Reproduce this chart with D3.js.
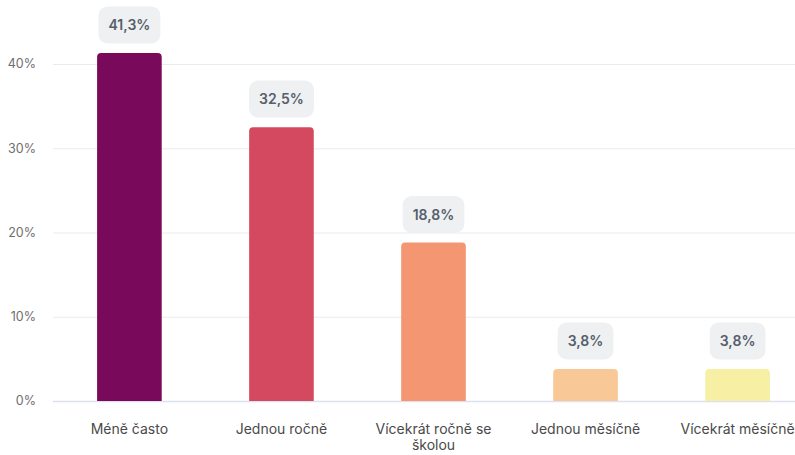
<!DOCTYPE html>
<html>
<head>
<meta charset="utf-8">
<script src="https://cdn.jsdelivr.net/npm/d3@7"></script>
<style>
    body { margin: 0; background: #fff; font-family: Inter, "Noto Sans", sans-serif; }
</style>
</head>
<body>
<div id="chart"></div>
<script>
    "use strict";

    // data
    const categories = ["Méně často", "Jednou ročně", "Vícekrát ročně se školou", "Jednou měsíčně", "Vícekrát měsíčně"];
    const shares = [41.3, 32.5, 18.8, 3.8, 3.8];
    const barColors = ["#790a5b", "#d4495f", "#f39671", "#f8c896", "#f7efa4"];
    const yTicks = [0, 10, 20, 30, 40];

    const width = 795;
    const height = 455;
    const margin = { top: 0, left: 53, bottom: 54 };

    const svg = d3.select("#chart").append("svg")
        .attr("width", width)
        .attr("height", height);

    const x = d3.scaleBand()
        .domain(categories)
        .range([margin.left, margin.left + 761])
        .paddingInner(0.575)
        .paddingOuter(0.29);

    const y = d3.scaleLinear()
        .domain([0, 40])
        .range([401, 64]);

    // grid
    svg.append("g")
        .selectAll("line")
        .data(yTicks)
        .enter()
        .append("line")
        .attr("x1", margin.left)
        .attr("x2", width)
        .attr("y1", d => y(d) + 0.5)
        .attr("y2", d => y(d) + 0.5)
        .attr("stroke", d => d === 0 ? "#dde1ef" : "#ebebeb")
        .attr("stroke-width", d => d === 0 ? 1.5 : 1);

    svg.append("g")
        .selectAll("text")
        .data(yTicks)
        .enter()
        .append("text")
        .attr("x", 36)
        .attr("y", d => y(d))
        .attr("dy", "0.35em")
        .attr("text-anchor", "end")
        .attr("fill", "#6e6e6e")
        .attr("font-size", 12.5)
        .text(d => d + "%");

    // bars with rounded tops
    const r = 4;
    svg.append("g")
        .selectAll("path")
        .data(shares)
        .enter()
        .append("path")
        .attr("fill", (d, i) => barColors[i])
        .attr("d", (d, i) => {
            const x0 = x(categories[i]);
            const w = x.bandwidth();
            const top = y(d);
            const bot = y(0);
            return "M" + x0 + "," + bot +
                "V" + (top + r) +
                "Q" + x0 + "," + top + " " + (x0 + r) + "," + top +
                "H" + (x0 + w - r) +
                "Q" + (x0 + w) + "," + top + " " + (x0 + w) + "," + (top + r) +
                "V" + bot + "Z";
        });

    // value badges
    const badges = svg.append("g")
        .selectAll("g")
        .data(shares)
        .enter()
        .append("g");

    badges.append("text")
        .attr("x", (d, i) => x(categories[i]) + x.bandwidth() / 2)
        .attr("y", d => y(d) - 28)
        .attr("dy", "0.35em")
        .attr("text-anchor", "middle")
        .attr("fill", "#555f6b")
        .attr("font-size", 14)
        .attr("font-weight", 600)
        .text(d => d.toFixed(1).replace(".", ",") + "%");

    badges.each(function () {
        const g = d3.select(this);
        const bb = g.select("text").node().getBBox();
        g.insert("rect", "text")
            .attr("x", bb.x - 10)
            .attr("y", bb.y + bb.height / 2 - 18)
            .attr("width", bb.width + 20)
            .attr("height", 37)
            .attr("rx", 9)
            .attr("fill", "#eef0f1");
    });

    // category labels
    const labels = svg.append("g")
        .selectAll("text")
        .data(categories)
        .enter()
        .append("text")
        .attr("x", d => x(d) + x.bandwidth() / 2)
        .attr("y", 434)
        .attr("text-anchor", "middle")
        .attr("fill", "#4a4a4a")
        .attr("font-size", 14);

    labels.each(function (d) {
        const t = d3.select(this);
        const lines = d === "Vícekrát ročně se školou" ? ["Vícekrát ročně se", "školou"] : [d];
        lines.forEach((ln, k) => {
            t.append("tspan")
                .attr("x", t.attr("x"))
                .attr("dy", k === 0 ? 0 : 16)
                .text(ln);
        });
    });
</script>
</body>
</html>
